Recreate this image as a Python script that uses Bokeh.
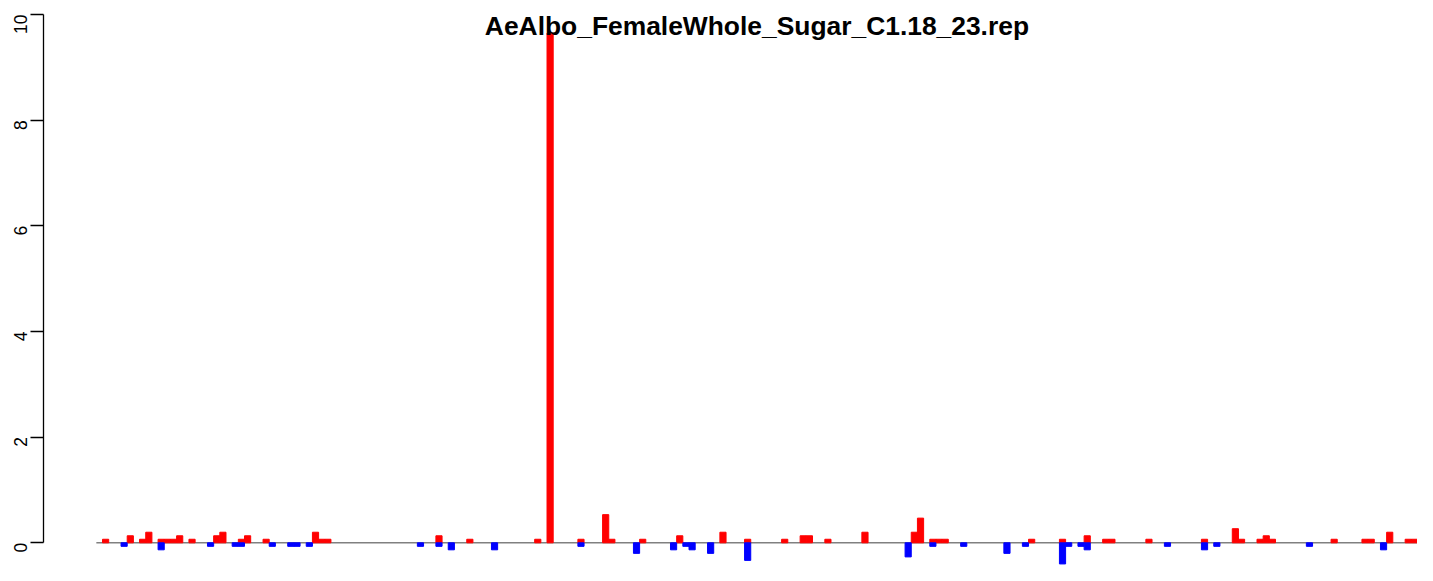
import math
from bokeh.plotting import figure
from bokeh.models import Range1d, FixedTicker
from bokeh.core.properties import value
from bokeh.embed import file_html
from bokeh.resources import INLINE

# ---------------- data ----------------
chart_title = "AeAlbo_FemaleWhole_Sugar_C1.18_23.rep"
n_bars = 214

# positive (red) bars: bar index and value
pos_index = [1, 5, 7, 8, 10, 11, 12, 13, 15, 19, 20, 23, 24, 27, 35, 36, 37,
             55, 60, 71, 73, 78, 82, 83, 88, 94, 101, 105, 111, 114, 115, 118,
             124, 132, 133, 135, 136, 137, 151, 156, 160, 163, 164, 170, 179,
             184, 185, 188, 189, 190, 200, 205, 206, 209, 212, 213]
pos_value = [0.067, 0.133, 0.067, 0.2, 0.067, 0.067, 0.067, 0.133, 0.067, 0.133,
             0.2, 0.067, 0.133, 0.067, 0.2, 0.067, 0.067,
             0.133, 0.067, 0.067, 9.65, 0.067, 0.533, 0.067, 0.067, 0.133, 0.2,
             0.067, 0.067, 0.133, 0.133, 0.067,
             0.2, 0.2, 0.467, 0.067, 0.067, 0.067, 0.067, 0.067, 0.133, 0.067,
             0.067, 0.067, 0.067,
             0.267, 0.067, 0.067, 0.133, 0.067, 0.067, 0.067, 0.067, 0.2, 0.067,
             0.067]

# negative (blue) bars: bar index and value
neg_index = [4, 10, 18, 22, 23, 28, 31, 32, 34, 52, 55, 57, 64, 78, 87, 93, 95,
             96, 99, 105, 131, 135, 140, 147, 150, 156, 157, 159, 160, 173, 179,
             181, 196, 208]
neg_value = [-0.067, -0.133, -0.067, -0.067, -0.067, -0.067, -0.067, -0.067,
             -0.067, -0.067, -0.067, -0.133, -0.133, -0.067, -0.2, -0.133,
             -0.067, -0.133, -0.2, -0.333, -0.267, -0.067, -0.067, -0.2, -0.067,
             -0.4, -0.067, -0.067, -0.133, -0.067, -0.133, -0.067, -0.067,
             -0.133]

y_ticks = [0, 2, 4, 6, 8, 10]

# ---------------- layout ----------------
W, H = 1417, 565
pad = 0.04 * n_bars
x_lo, x_hi = -pad, n_bars + pad
title_x = (x_lo + x_hi) / 2.0

# vertical mapping: y=10 at 14px from top, y=0 at 542.3px
y_top_px, y_zero_px = 14.0, 542.3
ppu = (y_zero_px - y_top_px) / 10.0
y_max = 10 + y_top_px / ppu
y_min = -(H - y_zero_px) / ppu
title_y = (y_zero_px - 25.0) / ppu

p = figure(width=W, height=H,
           x_range=Range1d(x_lo, n_bars),
           y_range=Range1d(y_min, y_max),
           x_axis_location=None,
           min_border_left=43, min_border_right=0,
           min_border_top=0, min_border_bottom=0,
           output_backend="svg", toolbar_location=None)

p.outline_line_color = None
p.xgrid.visible = False
p.ygrid.visible = False
p.background_fill_color = "white"
p.border_fill_color = "white"

ax = p.yaxis[0]
ax.ticker = FixedTicker(ticks=y_ticks)
ax.bounds = (0, 10)
ax.axis_line_color = "black"
ax.axis_line_width = 1.3
ax.major_tick_line_color = "black"
ax.major_tick_line_width = 1.3
ax.major_tick_in = 0
ax.major_tick_out = 13
ax.minor_tick_line_color = None
ax.major_label_orientation = math.pi / 2
ax.major_label_standoff = 10
ax.major_label_text_font = "Liberation Sans"
ax.major_label_text_font_size = "17.5px"
ax.major_label_text_color = "black"

# baseline under bars
p.segment(x0=[0], y0=[0], x1=[n_bars], y1=[0],
          line_color="#808080", line_width=1.5)

p.vbar(x=[i + 0.5 for i in pos_index], top=pos_value, bottom=0, width=1,
       fill_color="#FF0000", line_color="#FF0000", line_width=1)
p.vbar(x=[i + 0.5 for i in neg_index], top=0, bottom=neg_value, width=1,
       fill_color="#0000FF", line_color="#0000FF", line_width=1)

p.text(x=[title_x], y=[title_y], text=[chart_title],
       text_font=value("Liberation Sans"), text_font_style="bold",
       text_font_size="26.4px", text_align="center",
       text_baseline="alphabetic", text_color="black")

open("out.html", "w").write(file_html(p, INLINE))
